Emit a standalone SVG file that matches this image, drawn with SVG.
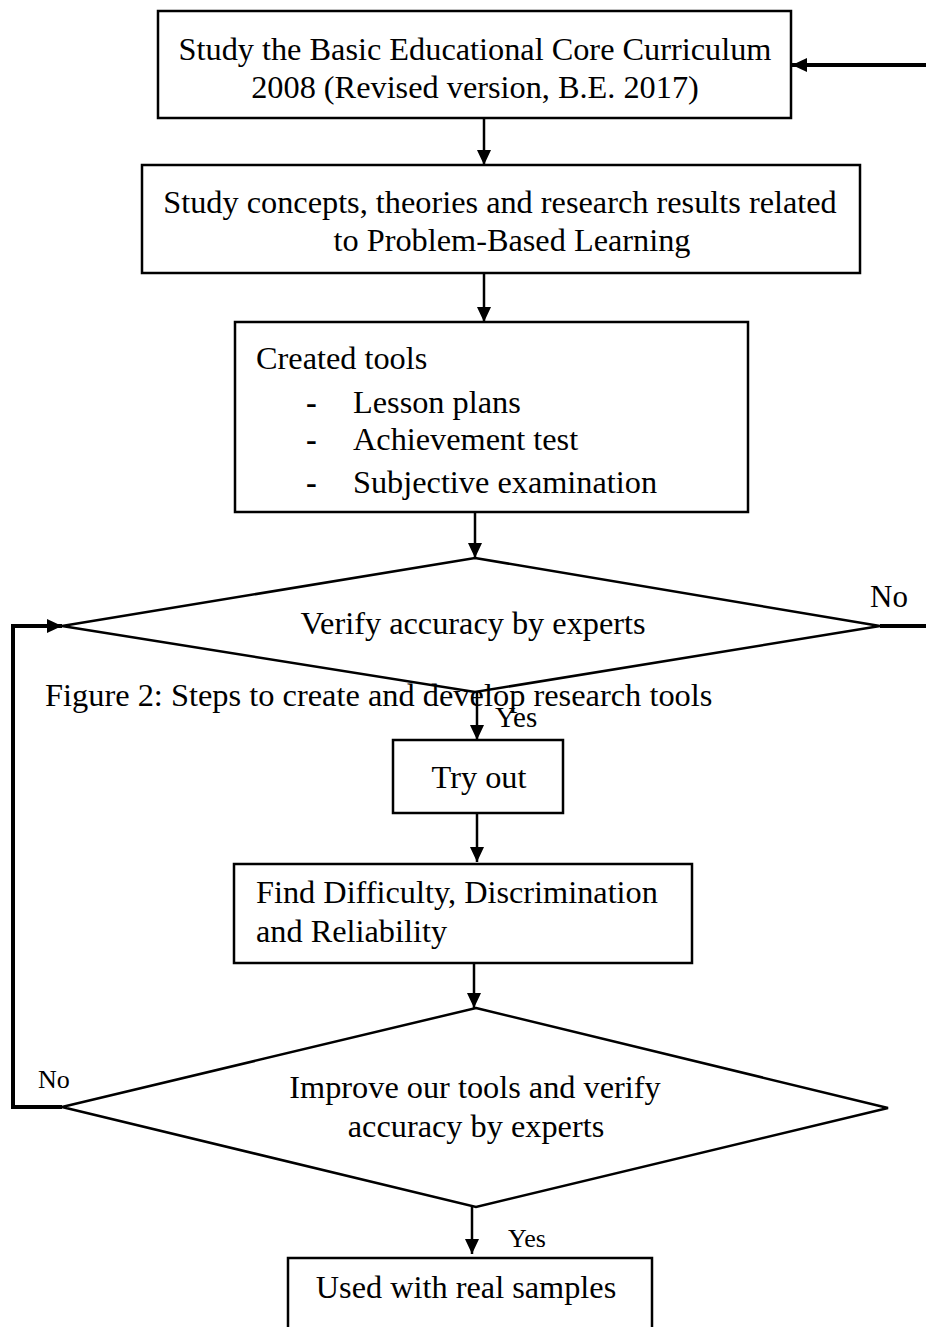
<svg xmlns="http://www.w3.org/2000/svg" width="926" height="1327" viewBox="0 0 926 1327">
<style>
.box{fill:#fff;stroke:#000;stroke-width:2.5}
.t{font-family:"Liberation Serif","Times New Roman",serif;font-size:32.3px;fill:#000}
.c{text-anchor:middle}
.s{font-size:26px}
.ln{fill:none;stroke:#000;stroke-width:2.5}
.thick{fill:none;stroke:#000;stroke-width:4}
</style>
<defs>
<marker id="ah" markerUnits="userSpaceOnUse" markerWidth="16" markerHeight="14" refX="15" refY="7" orient="auto">
<path d="M0,0 L15,7 L0,14 z" fill="#000"/>
</marker>
</defs>
<rect width="926" height="1327" fill="#fff"/>
<g id="connectors">
<line class="ln" x1="484" y1="118" x2="484" y2="165" marker-end="url(#ah)"/>
<line class="ln" x1="484" y1="273" x2="484" y2="322" marker-end="url(#ah)"/>
<line class="ln" x1="475" y1="512" x2="475" y2="558" marker-end="url(#ah)"/>
<line class="ln" x1="477" y1="692" x2="477" y2="740" marker-end="url(#ah)"/>
<line class="ln" x1="477" y1="813" x2="477" y2="862" marker-end="url(#ah)"/>
<line class="ln" x1="474" y1="963" x2="474" y2="1008" marker-end="url(#ah)"/>
<line class="ln" x1="472" y1="1207" x2="472" y2="1254" marker-end="url(#ah)"/>
<polyline class="thick" points="62,1107 13,1107 13,626 62,626" marker-end="url(#ah)"/>
<line class="thick" x1="880" y1="626" x2="926" y2="626"/>
<line class="thick" x1="926" y1="65" x2="792" y2="65" marker-end="url(#ah)"/>
<text class="t" x="870" y="607" style="font-size:31px">No</text>
<text class="t s" x="38" y="1088">No</text>
<text class="t" x="495" y="727" style="font-size:29px">Yes</text>
<text class="t s" x="508" y="1247">Yes</text>
</g>
<g id="n1">
<rect class="box" x="158" y="11" width="633" height="107"/>
<text class="t c" x="475" y="60">Study the Basic Educational Core Curriculum</text>
<text class="t c" x="475" y="98">2008 (Revised version, B.E. 2017)</text>
</g>
<g id="n2">
<rect class="box" x="142" y="165" width="718" height="108"/>
<text class="t c" x="500" y="213">Study concepts, theories and research results related</text>
<text class="t c" x="512" y="251">to Problem-Based Learning</text>
</g>
<g id="n3">
<rect class="box" x="235" y="322" width="513" height="190"/>
<text class="t" x="256" y="369">Created tools</text>
<text class="t" x="306" y="413" style="font-weight:bold">-</text>
<text class="t" x="353" y="413">Lesson plans</text>
<text class="t" x="306" y="450" style="font-weight:bold">-</text>
<text class="t" x="353" y="450">Achievement test</text>
<text class="t" x="306" y="493" style="font-weight:bold">-</text>
<text class="t" x="353" y="493">Subjective examination</text>
</g>
<g id="d1">
<polygon class="box" points="475,558 880,626 475,692 62,626"/>
<text class="t c" x="473" y="634">Verify accuracy by experts</text>
</g>
<g id="caption">
<text class="t" x="45" y="706" style="font-size:32.4px">Figure 2: Steps to create and develop research tools</text>
</g>
<g id="n4">
<rect class="box" x="393" y="740" width="170" height="73"/>
<text class="t c" x="479" y="788">Try out</text>
</g>
<g id="n5">
<rect class="box" x="234" y="864" width="458" height="99"/>
<text class="t" x="256" y="903">Find Difficulty, Discrimination</text>
<text class="t" x="256" y="942">and Reliability</text>
</g>
<g id="d2">
<polygon class="box" points="476,1008 888,1108 476,1207 62,1107"/>
<text class="t c" x="475" y="1098">Improve our tools and verify</text>
<text class="t c" x="476" y="1137">accuracy by experts</text>
</g>
<g id="n6">
<rect class="box" x="288" y="1258" width="364" height="90"/>
<text class="t c" x="466" y="1298">Used with real samples</text>
</g>
</svg>
